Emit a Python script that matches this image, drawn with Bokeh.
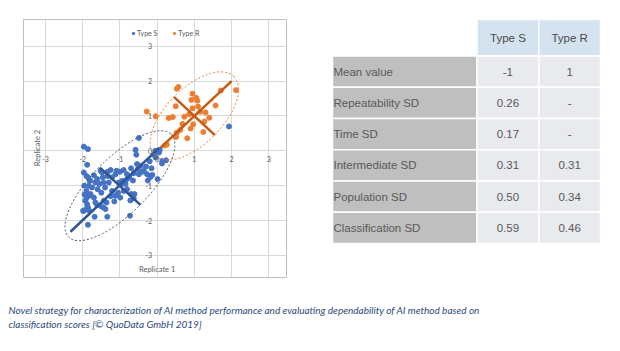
import numpy as np
from bokeh.plotting import figure
from bokeh.models import Range1d, FixedTicker, Grid, Legend, LegendItem, Label
from bokeh.layouts import row, column
from bokeh.embed import file_html
from bokeh.resources import INLINE
from bokeh.core.properties import value

# ---------------- data ----------------
blue_x = [-1.97, -1.86, -0.49, -1.88, -0.58, -0.56, -0.09, -0.04, 0.07, 0.14, 0.24, 0.13,
          0.01, -0.13, -0.27, -0.18, -0.36, -0.52, -0.49, -0.63, -0.54, -0.45, -0.81, -0.81,
          -0.94, -1.09, -1.12, -1.21, -1.52, -1.48, -1.33, -1.33, -1.46, -1.44, -1.30, -1.61,
          -1.66, -1.81, -1.84, -1.97, -1.90, -1.86, -1.96, -1.90, -1.84, -1.93, -1.88, -1.86,
          -1.97, -1.79, -1.70, -1.66, -1.61, -1.52, -1.43, -1.36, -1.21, -1.12, -1.03, -0.99,
          -0.90, -0.81, -0.70, -0.61, -0.63, -0.72, -1.99, -1.91, -1.82, -1.68, -1.34, -1.86,
          -0.73, -1.45, -1.39, -1.60, -1.50, -1.40, -1.25, -1.15, -1.05, -0.95, -0.85, -0.75,
          -0.65, -0.40, -0.30, -0.20, -0.15, -0.25, -1.75, -1.70, -1.55, -1.25, -1.00, -0.90,
          -0.70, 0.05, -0.05, -1.80, -1.95, -1.90, 1.93]
blue_y = [0.12, 0.05, 0.37, -0.40, 0.03, -0.11, -0.11, -0.19, 0.03, -0.29, -0.27, -0.36,
          -0.81, -0.69, -0.67, -0.75, -0.57, -0.53, -0.67, -0.64, -0.38, -0.43, -0.67, -0.81,
          -0.86, -0.57, -0.67, -0.76, -0.57, -0.62, -0.60, -0.72, -0.76, -0.91, -0.91, -0.81,
          -0.91, -0.86, -1.00, -0.62, -0.72, -0.76, -1.00, -1.15, -1.29, -1.43, -1.53, -1.62,
          -1.72, -1.24, -1.34, -1.48, -1.55, -1.58, -1.43, -1.48, -1.15, -1.29, -0.91, -1.34,
          -1.15, -1.10, -1.24, -1.24, -1.36, -1.42, -1.72, -1.67, -1.72, -1.89, -1.89, -2.12,
          -1.86, -1.62, -1.67, -1.10, -1.20, -1.05, -1.30, -1.45, -1.20, -0.95, -0.95, -0.75,
          -0.85, -0.60, -0.45, -0.30, -0.50, -0.85, -1.05, -0.70, -0.95, -0.55, -0.60, -0.55,
          -0.50, -0.05, 0.00, -0.85, -1.25, -1.35, 0.70]

orange_x = [-0.28, -0.04, 0.53, 0.57, 0.50, 0.31, 0.42, 0.73, 0.68, 0.86, 0.95, 0.92,
            1.05, 1.08, 1.10, 1.16, 1.30, 1.27, 0.97, 0.90, 0.81, 0.51, 0.53, 1.24,
            1.57, 1.71, 2.12, 0.26, 0.20, 0.95, 1.40, 0.62]
orange_y = [1.13, 0.99, 1.78, 1.83, 1.28, 0.94, 0.97, 0.98, 0.77, 1.05, 1.64, 1.46,
            1.52, 1.44, 1.27, 1.12, 1.10, 0.84, 0.76, 0.64, 0.36, 0.40, 0.52, 0.54,
            1.30, 1.73, 1.74, 0.18, 0.15, 1.22, 0.95, 0.60]

# principal axes (major and minor) of each type
blue_major_x = [-2.33, 0.05]
blue_major_y = [-2.32, 0.08]
blue_minor_x = [-1.54, -0.45]
blue_minor_y = [-0.48, -1.55]
orange_major_x = [0.10, 2.00]
orange_major_y = [0.10, 2.00]
orange_minor_x = [0.45, 1.55]
orange_minor_y = [1.55, 0.45]

# confidence ellipses: centre and full axis lengths (rotated 45 degrees)
ell_x = [-1.0, 1.0]
ell_y = [-1.0, 1.0]
ell_w = [3.9, 3.0]
ell_h = [1.6, 1.6]

tick_values = [-3, -2, -1, 0, 1, 2, 3]
tick_labels = ["-3", "-2", "-1", "0", "1", "2", "3"]

row_labels = ["Mean value", "Repeatability SD", "Time SD", "Intermediate SD",
              "Population SD", "Classification SD"]
col_labels = ["Type S", "Type R"]
type_s_vals = ["-1", "0.26", "0.17", "0.31", "0.50", "0.59"]
type_r_vals = ["1", "-", "-", "0.31", "0.34", "0.46"]

caption_lines = [
    "Novel strategy for characterization of AI method performance and evaluating dependability of AI method based on",
    "classification scores [\u00a9 QuoData GmbH 2019]",
]

BLUE = "#4472C4"
ORANGE = "#ED7D31"
FONT = "Lato"

# shared top/bottom borders of the top row (Bokeh aligns them across a row)
TOP_B, BOT_B = 19, 13

# ---------------- scatter chart ----------------
p = figure(width=310, height=290, x_range=Range1d(-3.591, 3.476), y_range=Range1d(-3.631, 3.766),
           output_backend="svg", toolbar_location=None,
           x_axis_location=None, y_axis_location=None,
           min_border_left=23, min_border_right=24, min_border_top=TOP_B, min_border_bottom=BOT_B)
p.center = []
p.outline_line_color = "#bfbfbf"
p.outline_line_width = 1
p.background_fill_color = "white"
p.border_fill_color = "white"
for dim in (0, 1):
    p.add_layout(Grid(dimension=dim, ticker=FixedTicker(ticks=tick_values), bounds=(-3, 3),
                      grid_line_color="#d9d9d9", grid_line_width=1))

rs = p.scatter(blue_x, blue_y, size=5, color=BLUE)
ro = p.scatter(orange_x, orange_y, size=5, color=ORANGE)

p.line(blue_major_x, blue_major_y, line_color="#2F5597", line_width=2.5)
p.line(blue_minor_x, blue_minor_y, line_color="#2F5597", line_width=2.5)
p.line(orange_major_x, orange_major_y, line_color="#C55A11", line_width=2.5)
p.line(orange_minor_x, orange_minor_y, line_color="#C55A11", line_width=2.5)

p.ellipse(x=ell_x, y=ell_y, width=ell_w, height=ell_h, angle=np.pi / 4,
          fill_alpha=0, line_color=["#44546A", ORANGE], line_dash="2 2", line_width=1)

zeros = [0] * len(tick_values)
p.text(x=tick_values, y=zeros, text=tick_labels, text_align="center", text_baseline="top",
       y_offset=5, text_font_size="7px", text_color="#595959", text_font=value(FONT))
p.text(x=zeros, y=tick_values, text=tick_labels, text_align="right", text_baseline="middle",
       x_offset=-5, text_font_size="7px", text_color="#595959", text_font=value(FONT))

p.add_layout(Label(x=0, y=-3.4, text="Replicate 1", text_align="center", text_baseline="middle",
                   text_font_size="7.5px", text_color="#595959", text_font=FONT))
p.add_layout(Label(x=-3.22, y=0.08, text="Replicate 2", angle=np.pi / 2, text_align="center",
                   text_baseline="middle", text_font_size="7.5px", text_color="#595959",
                   text_font=FONT))

legend = Legend(items=[LegendItem(label=col_labels[0], renderers=[rs]),
                       LegendItem(label=col_labels[1], renderers=[ro])],
                orientation="horizontal", location=(107, 240), glyph_width=6, glyph_height=8,
                label_height=8, label_standoff=1, spacing=14, padding=0, margin=0,
                border_line_color=None, background_fill_alpha=0,
                label_text_font_size="7px", label_text_color="#595959", label_text_font=FONT)
p.add_layout(legend)

# ---------------- table ----------------
# ranges expressed in page pixels: x from 310 to 620, y from 19 (top) to 277 (bottom)
t = figure(width=310, height=290, x_range=Range1d(310, 620), y_range=Range1d(290 - BOT_B, TOP_B),
           output_backend="svg", toolbar_location=None,
           x_axis_location=None, y_axis_location=None,
           min_border_left=0, min_border_right=0, min_border_top=TOP_B, min_border_bottom=BOT_B)
t.grid.visible = False
t.outline_line_color = None

col_edges = [332, 476.5, 538.3, 600]
header_top, header_bottom, row_h = 19, 55.5, 31.25
n = len(row_labels)
row_tops = [header_bottom + i * row_h for i in range(n)]
row_bots = [v + row_h for v in row_tops]
row_mid = [v + row_h / 2 for v in row_tops]

t.quad(left=col_edges[1:3], right=col_edges[2:4], top=[header_top] * 2, bottom=[header_bottom] * 2,
       fill_color="#D5E3F0", line_color="white", line_width=1.5)
t.quad(left=[col_edges[0]] * n, right=[col_edges[1]] * n, top=row_tops, bottom=row_bots,
       fill_color="#BFBFBF", line_color="white", line_width=1.5)
for j in range(2):
    t.quad(left=[col_edges[j + 1]] * n, right=[col_edges[j + 2]] * n, top=row_tops, bottom=row_bots,
           fill_color="#E8EAED", line_color="white", line_width=1.5)

TFONT = value("Liberation Sans")
TSIZE = "11.5px"
centers = [(col_edges[1] + col_edges[2]) / 2, (col_edges[2] + col_edges[3]) / 2]
t.text(x=centers, y=[(header_top + header_bottom) / 2] * 2, text=col_labels, text_align="center",
       text_baseline="middle", text_font_size=TSIZE, text_color="#4a4a4a", text_font=TFONT)
t.text(x=[col_edges[0] + 1] * n, y=row_mid, text=row_labels, text_align="left",
       text_baseline="middle", text_font_size=TSIZE, text_color="#595959", text_font=TFONT)
t.text(x=[centers[0]] * n, y=row_mid, text=type_s_vals, text_align="center",
       text_baseline="middle", text_font_size=TSIZE, text_color="#595959", text_font=TFONT)
t.text(x=[centers[1]] * n, y=row_mid, text=type_r_vals, text_align="center",
       text_baseline="middle", text_font_size=TSIZE, text_color="#595959", text_font=TFONT)

# ---------------- caption ----------------
c = figure(width=620, height=61, x_range=Range1d(0, 620), y_range=Range1d(61, 0),
           output_backend="svg", toolbar_location=None,
           x_axis_location=None, y_axis_location=None, min_border=0)
c.grid.visible = False
c.outline_line_color = None
c.text(x=[8, 8], y=[19, 33], text=caption_lines, text_align="left", text_baseline="middle",
       text_font_size="10px", text_font_style="italic", text_color="#2E4A7D", text_font=value(FONT))

layout = column(row(p, t), c)
open("out.html", "w").write(file_html(layout, INLINE))
